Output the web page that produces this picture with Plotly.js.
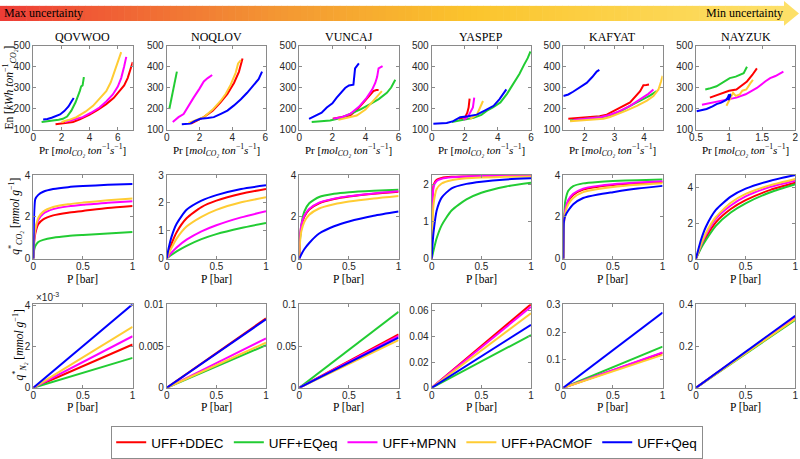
<!DOCTYPE html>
<html><head><meta charset="utf-8">
<script src="https://cdn.plot.ly/plotly-3.0.1.min.js"></script>
<style>html,body{margin:0;padding:0;background:#fff;}#chart{width:800px;height:459px;}</style>
</head><body><div id="chart"></div>
<script>
// ---------- categories ----------
var mofs = ['QOVWOO','NOQLOV','VUNCAJ','YASPEP','KAFYAT','NAYZUK'];
var methods = ['UFF+DDEC','UFF+EQeq','UFF+MPNN','UFF+PACMOF','UFF+Qeq'];
var colors = ['#ff0000','#22cc33','#ff00ff','#ffcc33','#0000ff'];

// ---------- Row 1: productivity (Pr) vs energy (En) ----------
var pr_QOVWOO_DDEC = [1.58,2.0,2.5,2.82,3.3,4.0,4.6,5.18,5.7,6.1,6.45,6.7,6.9,7.06];
var en_QOVWOO_DDEC = [125,128,133,136,148,171,195,221,250,283,310,345,385,422];
var pr_QOVWOO_EQeq = [0.59,1.2,1.8,2.1,2.4,2.7,3.0,3.3,3.4,3.5,3.58,3.65];
var en_QOVWOO_EQeq = [136,140,147,151,162,190,230,283,306,310,345,345];
var pr_QOVWOO_MPNN = [2.24,2.8,3.5,4.1,4.7,5.2,5.65,6.0,6.24,6.45,6.6];
var en_QOVWOO_MPNN = [136,145,159,180,205,235,267,305,345,400,446];
var pr_QOVWOO_PACMOF = [2.0,2.5,3.06,3.7,4.24,4.7,5.18,5.5,5.76,6.0,6.24];
var en_QOVWOO_PACMOF = [136,145,159,185,213,245,283,325,376,420,469];
var pr_QOVWOO_Qeq = [0.7,1.0,1.3,1.6,1.9,2.2,2.5,2.7,2.87];
var en_QOVWOO_Qeq = [148,150,156,163,172,188,210,232,250];

var pr_NOQLOV_DDEC = [1.48,1.9,2.26,2.8,3.28,3.7,4.1,4.4,4.56,4.62];
var en_NOQLOV_DDEC = [128,145,159,190,229,270,322,375,422,438];
var pr_NOQLOV_EQeq = [0.16,0.3,0.41,0.52,0.62];
var en_NOQLOV_EQeq = [198,250,306,345,376];
var pr_NOQLOV_MPNN = [0.37,0.72,1.03,1.3,1.64,2.0,2.26,2.5,2.77];
var en_NOQLOV_MPNN = [136,159,174,210,252,295,329,345,360];
var pr_NOQLOV_PACMOF = [1.33,1.8,2.26,2.8,3.28,3.6,3.9,4.2,4.35,4.52];
var en_NOQLOV_PACMOF = [131,147,159,195,236,270,314,370,415,430];
var pr_NOQLOV_Qeq = [0.92,1.44,1.7,2.05,2.5,2.87,3.3,3.7,4.1,4.52,4.9,5.34,5.6,5.81];
var en_NOQLOV_Qeq = [125,128,140,151,155,159,175,190,215,244,275,314,340,376];

var pr_VUNCAJ_DDEC = [2.02,2.5,3.07,3.5,3.88,4.2,4.48,4.65,4.79];
var en_VUNCAJ_DDEC = [151,158,167,195,229,255,283,288,288];
var pr_VUNCAJ_EQeq = [0.75,1.3,1.86,2.5,3.07,3.7,4.28,4.8,5.29,5.55,5.8];
var en_VUNCAJ_EQeq = [136,139,143,155,174,196,221,245,275,300,337];
var pr_VUNCAJ_MPNN = [2.06,2.6,3.07,3.6,4.08,4.4,4.59,4.7,4.79,4.9,5.03];
var en_VUNCAJ_MPNN = [151,160,174,208,252,290,322,350,391,395,402];
var pr_VUNCAJ_PACMOF = [2.36,2.9,3.47,4.0,4.48,4.75,4.99];
var en_VUNCAJ_PACMOF = [146,155,167,195,236,258,283];
var pr_VUNCAJ_Qeq = [0.59,1.05,1.35,1.66,2.0,2.26,2.5,2.77,3.0,3.27,3.37,3.5,3.6];
var en_VUNCAJ_Qeq = [151,167,180,205,225,252,275,298,310,314,391,405,415];

var pr_YASPEP_DDEC = [1.62,1.9,2.02,2.15,2.23,2.29];
var en_YASPEP_DDEC = [151,155,159,180,205,247];
var pr_YASPEP_EQeq = [1.21,1.9,2.53,3.0,3.34,3.7,4.15,4.55,4.96,5.3,5.57,5.8,5.97];
var en_YASPEP_EQeq = [136,145,156,170,190,205,229,270,322,365,407,440,472];
var pr_YASPEP_MPNN = [1.92,2.1,2.23,2.35,2.49,2.57];
var en_YASPEP_MPNN = [146,155,167,185,205,252];
var pr_YASPEP_PACMOF = [2.33,2.55,2.73,2.9,3.04,3.1];
var en_YASPEP_PACMOF = [151,160,171,200,229,236];
var pr_YASPEP_Qeq = [0.1,0.5,0.91,1.3,1.72,2.2,2.73,3.2,3.74,4.1,4.45,4.51];
var en_YASPEP_Qeq = [128,129,131,140,159,163,171,190,213,245,283,291];

var pr_KAFYAT_DDEC = [1.44,1.8,2.17,2.5,2.74,3.0,3.13,3.53,3.87,3.98,4.08,4.17];
var en_KAFYAT_DDEC = [151,155,159,163,171,190,201,229,283,311,312,314];
var pr_KAFYAT_EQeq = [1.5,2.0,2.4,2.7,2.97,3.25,3.53,3.98,4.2,4.43];
var en_KAFYAT_EQeq = [143,150,156,162,174,190,213,244,262,283];
var pr_KAFYAT_MPNN = [1.61,2.1,2.52,2.8,3.08,3.53,3.98,4.15,4.32];
var en_KAFYAT_MPNN = [146,152,159,168,182,213,252,270,291];
var pr_KAFYAT_PACMOF = [1.5,2.1,2.63,2.85,3.08,3.4,3.76,4.1,4.32,4.49,4.58,4.63];
var en_KAFYAT_PACMOF = [139,146,151,160,171,190,213,238,260,291,330,356];
var pr_KAFYAT_Qeq = [1.27,1.44,1.6,1.72,1.9,2.06,2.25,2.4,2.49];
var en_KAFYAT_Qeq = [260,267,280,291,305,322,350,376,384];

var pr_NAYZUK_DDEC = [0.71,0.8,0.91,1.0,1.11,1.2,1.27,1.35,1.42];
var en_NAYZUK_DDEC = [252,262,275,285,291,310,329,360,391];
var pr_NAYZUK_EQeq = [0.64,0.7,0.81,0.9,1.01,1.1,1.22,1.27];
var en_NAYZUK_EQeq = [291,295,306,325,345,352,368,399];
var pr_NAYZUK_MPNN = [0.59,0.7,0.81,0.95,1.11,1.25,1.42,1.55,1.62,1.7,1.82];
var en_NAYZUK_MPNN = [218,225,233,240,252,268,298,330,345,355,376];
var pr_NAYZUK_PACMOF = [0.96,1.0,1.06,1.1,1.16,1.2,1.26,1.32,1.36];
var en_NAYZUK_PACMOF = [213,240,275,260,267,285,291,320,337];
var pr_NAYZUK_Qeq = [0.51,0.6,0.66,0.75,0.81,0.88,0.91,0.95,0.98,1.0,0.99,1.02,1.01];
var en_NAYZUK_Qeq = [187,192,198,210,221,228,233,240,252,267,240,262,270];

// ---------- Row 2: CO2 isotherms ----------
var P_grid = [0,0.005,0.01,0.02,0.05,0.1,0.2,0.35,0.5,0.75,1];
var qCO2_QOVWOO_DDEC = [0,0.5,0.85,1.2,1.65,1.88,2.07,2.2,2.28,2.42,2.52];
var qCO2_QOVWOO_EQeq = [0,0.3,0.45,0.6,0.8,0.9,1.0,1.08,1.13,1.2,1.27];
var qCO2_QOVWOO_MPNN = [0,0.6,1.0,1.35,1.85,2.15,2.37,2.5,2.58,2.67,2.75];
var qCO2_QOVWOO_PACMOF = [0,0.65,1.05,1.4,1.95,2.25,2.47,2.6,2.68,2.79,2.88];
var qCO2_QOVWOO_Qeq = [0,1.4,2.3,2.85,3.05,3.2,3.33,3.42,3.47,3.53,3.57];

var qCO2_NOQLOV_DDEC = [0,0.06,0.12,0.24,0.55,0.95,1.45,1.85,2.08,2.33,2.5];
var qCO2_NOQLOV_EQeq = [0,0.015,0.03,0.06,0.14,0.26,0.46,0.7,0.88,1.1,1.28];
var qCO2_NOQLOV_MPNN = [0,0.02,0.05,0.1,0.22,0.4,0.68,0.98,1.2,1.48,1.7];
var qCO2_NOQLOV_PACMOF = [0,0.05,0.09,0.18,0.4,0.72,1.15,1.5,1.75,2.02,2.2];
var qCO2_NOQLOV_Qeq = [0,0.1,0.2,0.38,0.8,1.25,1.75,2.08,2.28,2.5,2.63];

var qCO2_VUNCAJ_DDEC = [0,0.8,1.2,1.55,2.0,2.35,2.65,2.85,2.97,3.1,3.2];
var qCO2_VUNCAJ_EQeq = [0,0.7,1.1,1.6,2.25,2.65,2.95,3.1,3.18,3.25,3.3];
var qCO2_VUNCAJ_MPNN = [0,0.85,1.25,1.6,2.05,2.38,2.68,2.87,2.99,3.12,3.22];
var qCO2_VUNCAJ_PACMOF = [0,0.6,0.95,1.3,1.75,2.1,2.4,2.6,2.73,2.88,3.0];
var qCO2_VUNCAJ_Qeq = [0,0.05,0.1,0.2,0.45,0.75,1.2,1.55,1.78,2.05,2.25];

var qCO2_YASPEP_DDEC = [0,1.3,1.75,2.0,2.13,2.18,2.21,2.22,2.23,2.24,2.25];
var qCO2_YASPEP_EQeq = [0,0.06,0.12,0.24,0.55,0.9,1.3,1.6,1.78,1.95,2.05];
var qCO2_YASPEP_MPNN = [0,1.2,1.65,1.95,2.1,2.16,2.2,2.22,2.23,2.24,2.25];
var qCO2_YASPEP_PACMOF = [0,0.7,1.1,1.5,1.88,2.03,2.12,2.17,2.19,2.21,2.22];
var qCO2_YASPEP_Qeq = [0,0.25,0.45,0.75,1.3,1.65,1.9,2.02,2.08,2.14,2.17];

var qCO2_KAFYAT_DDEC = [0,1.5,1.95,2.3,2.75,3.05,3.3,3.44,3.52,3.6,3.66];
var qCO2_KAFYAT_EQeq = [0,1.6,2.2,2.75,3.25,3.47,3.6,3.67,3.71,3.75,3.78];
var qCO2_KAFYAT_MPNN = [0,1.5,1.95,2.35,2.8,3.1,3.35,3.48,3.56,3.64,3.7];
var qCO2_KAFYAT_PACMOF = [0,1.4,1.85,2.2,2.6,2.9,3.18,3.33,3.43,3.53,3.6];
var qCO2_KAFYAT_Qeq = [0,1.7,1.9,2.05,2.3,2.6,2.9,3.07,3.18,3.35,3.48];

var qCO2_NAYZUK_DDEC = [0,0.07,0.14,0.28,0.66,1.2,2.05,2.8,3.3,3.88,4.28];
var qCO2_NAYZUK_EQeq = [0,0.06,0.12,0.24,0.58,1.05,1.85,2.6,3.12,3.75,4.2];
var qCO2_NAYZUK_MPNN = [0,0.08,0.16,0.31,0.75,1.35,2.25,3.0,3.52,4.05,4.4];
var qCO2_NAYZUK_PACMOF = [0,0.09,0.17,0.33,0.8,1.45,2.35,3.15,3.65,4.15,4.5];
var qCO2_NAYZUK_Qeq = [0,0.12,0.24,0.45,1.05,1.8,2.75,3.5,3.95,4.4,4.72];

// ---------- Row 3: N2 isotherms (linear), endpoints at P = 0 and 1 bar ----------
var P_line = [0,1];
// order: DDEC, EQeq, MPNN, PACMOF, Qeq
var qN2_QOVWOO = [0.0021,0.00145,0.0025,0.00295,0.00405];
var qN2_NOQLOV = [0.0083,0.0051,0.0059,0.0054,0.0082];
var qN2_VUNCAJ = [0.064,0.091,0.062,0.057,0.060];
var qN2_YASPEP = [0.065,0.041,0.063,0.058,0.049];
var qN2_KAFYAT = [0.125,0.148,0.127,0.118,0.270];
var qN2_NAYZUK = [0.340,0.325,0.335,0.330,0.345];

// ---------- axis ranges / ticks ----------
var r1_xrange = [[0,7.05],[0,6.05],[0,6],[0,6],[1.27,4.63],[0.5,2]];
var r1_xticks = [[0,2,4,6],[0,2,4,6],[0,2,4,6],[0,2,4,6],[2,3,4],[0.5,1,1.5,2]];
var r1_yrange = [100,500];
var r1_yticks = [100,200,300,400,500];
var r2_yrange = [[0,4],[0,3],[0,4],[0,2.26],[0,4],[0,4.72]];
var r2_yticks = [[0,2,4],[0,1,2,3],[0,2,4],[0,1,2],[0,2,4],[0,2,4]];
var r3_yrange = [[0,0.00405],[0,0.01],[0,0.1],[0,0.065],[0,0.3],[0,0.4]];
var r3_yticks = [[0,0.002,0.004],[0,0.005,0.01],[0,0.05,0.1],[0,0.02,0.04,0.06],[0,0.1,0.2,0.3],[0,0.2,0.4]];
var r3_yticktext = [['0','2','4'],['0','0.005','0.01'],['0','0.05','0.1'],['0','0.02','0.04','0.06'],['0','0.1','0.2','0.3'],['0','0.2','0.4']];
var P_ticks = [0,0.5,1];

// ---------- build ----------
const W = 800, H = 459;
const colLeft = [33.3,166.7,299.3,431.7,563.3,696];
const colW = 99.3;
const rowTB = [[46.7,132.7],[179.3,265],[311.7,397.3]];
const suffix = ['DDEC','EQeq','MPNN','PACMOF','Qeq'];
const G = (name) => window[name];
const SERIF = 'Liberation Serif';
const SANS = 'Liberation Sans';

const traces = [];
const layout = {
  width: W, height: H, margin: {l:0,r:0,t:0,b:0},
  paper_bgcolor: '#ffffff', plot_bgcolor: '#ffffff',
  showlegend: true,
  legend: {orientation:'h', x:0.509, xanchor:'center', y:1-436.5/H, yanchor:'top',
    bordercolor:'#8c8c8c', borderwidth:1, bgcolor:'#ffffff',
    font:{family:SANS, size:13.5, color:'#000'}},
  annotations: [], shapes: []
};
const axBase = {showline:true, mirror:'ticks', linecolor:'#8a8a8a', linewidth:1,
  ticks:'inside', ticklen:3, tickcolor:'#8a8a8a', showgrid:false, zeroline:false,
  tickfont:{family:SANS, size:10, color:'#262626'}, fixedrange:true};

function axisId(k){ return k===1 ? '' : String(k); }

for (let r=0; r<3; r++){
  for (let c=0; c<6; c++){
    const k = r*6 + c + 1, id = axisId(k);
    const xd = [colLeft[c]/W, (colLeft[c]+colW)/W];
    const yd = [1-rowTB[r][1]/H, 1-rowTB[r][0]/H];
    const xa = Object.assign({}, axBase, {domain:xd, anchor:'y'+id, ticklabelstandoff:-2});
    const ya = Object.assign({}, axBase, {domain:yd, anchor:'x'+id});
    if (r===0){
      xa.range = r1_xrange[c]; xa.tickvals = r1_xticks[c];
      ya.range = r1_yrange; ya.tickvals = r1_yticks;
    } else if (r===1){
      xa.range = [0,1]; xa.tickvals = P_ticks;
      ya.range = r2_yrange[c]; ya.tickvals = r2_yticks[c];
    } else {
      xa.range = [0,1]; xa.tickvals = P_ticks;
      ya.range = r3_yrange[c]; ya.tickvals = r3_yticks[c]; ya.ticktext = r3_yticktext[c];
    }
    layout['xaxis'+id] = xa; layout['yaxis'+id] = ya;
    for (let m=0; m<5; m++){
      let x, y, shape='linear';
      if (r===0){ x = G('pr_'+mofs[c]+'_'+suffix[m]); y = G('en_'+mofs[c]+'_'+suffix[m]); }
      else if (r===1){ x = P_grid; y = G('qCO2_'+mofs[c]+'_'+suffix[m]); shape='spline'; }
      else { x = P_line; y = [0, G('qN2_'+mofs[c])[m]]; }
      traces.push({type:'scatter', mode:'lines', x:x, y:y, xaxis:'x'+id, yaxis:'y'+id,
        name: methods[m], legendgroup: methods[m], showlegend: (k===1),
        line:{color:colors[m], width:2, shape:shape, smoothing:0.6}, hoverinfo:'skip'});
    }
    const cx = (colLeft[c]+colW/2)/W;
    if (r===0){
      layout.annotations.push({xref:'paper', yref:'paper', x:cx, y:1-37.5/H, text:mofs[c], showarrow:false,
        xanchor:'center', yanchor:'middle', font:{family:SERIF, size:12, color:'#000'}});
      layout.annotations.push({xref:'paper', yref:'paper', x:cx, y:1-154/H,
        text:'Pr [<i>mol</i><sub><i>CO₂</i></sub> <i>ton</i><sup>−1</sup><i>s</i><sup>−1</sup>]', showarrow:false,
        xanchor:'center', yanchor:'middle', font:{family:SERIF, size:11, color:'#000'}});
    } else {
      layout.annotations.push({xref:'paper', yref:'paper', x:cx, y:1-(r===1?286:417)/H, text:'P [bar]', showarrow:false,
        xanchor:'center', yanchor:'middle', font:{family:SERIF, size:11.5, color:'#000'}});
    }
  }
}

// y-axis labels
const serif = {family:SERIF, size:11.5, color:'#000'};
layout.annotations.push({xref:'paper', yref:'paper', x:9/W, y:1-89.7/H, textangle:-90, showarrow:false,
  text:'En [<i>kWh ton</i><sup>−1</sup><sub><i>CO₂</i></sub>]', xanchor:'center', yanchor:'middle', font:serif});
layout.annotations.push({xref:'paper', yref:'paper', x:15/W, y:1-222/H, textangle:-90, showarrow:false,
  text:'<i>q</i><sup>*</sup><sub><i>CO₂</i></sub> [<i>mmol g</i><sup>−1</sup>]', xanchor:'center', yanchor:'middle', font:serif});
layout.annotations.push({xref:'paper', yref:'paper', x:19/W, y:1-354/H, textangle:-90, showarrow:false,
  text:'<i>q</i><sup>*</sup><sub><i>N₂</i></sub> [<i>mmol g</i><sup>−1</sup>]', xanchor:'center', yanchor:'middle', font:serif});
// exponent
layout.annotations.push({xref:'paper', yref:'paper', x:34/W, y:1-304/H, showarrow:false,
  text:'×10<sup>-3</sup>', xanchor:'left', yanchor:'middle', font:{family:SANS, size:10, color:'#262626'}});

// gradient arrow banner
const stops = [[0,[238,61,54]],[0.35,[243,150,51]],[0.6,[251,196,44]],[1,[253,224,104]]];
function colAt(t){
  for (let i=0;i<stops.length-1;i++){
    const a=stops[i], b=stops[i+1];
    if (t>=a[0] && t<=b[0]){ const f=(t-a[0])/(b[0]-a[0]);
      const cc=a[1].map((v,j)=>Math.round(v+(b[1][j]-v)*f)); return 'rgb('+cc.join(',')+')'; }
  }
  return 'rgb(253,224,104)';
}
const barEnd = 784, barTop = 6, barBot = 21.5, N = 120;
for (let i=0;i<N;i++){
  const x0 = barEnd*i/N, x1 = barEnd*(i+1)/N + 0.6;
  layout.shapes.push({type:'rect', xref:'paper', yref:'paper', x0:x0/W, x1:x1/W, y0:1-barBot/H, y1:1-barTop/H,
    fillcolor:colAt(i/(N-1)), line:{width:0}, layer:'below'});
}
layout.shapes.push({type:'path', xref:'paper', yref:'paper',
  path:'M '+(barEnd/W)+' '+(1-1/H)+' L '+(799/W)+' '+(1-13.8/H)+' L '+(barEnd/W)+' '+(1-26.5/H)+' Z',
  fillcolor:'rgb(253,224,104)', line:{width:0}, layer:'below'});
layout.annotations.push({xref:'paper', yref:'paper', x:2/W, y:1-13.5/H, text:'Max uncertainty', showarrow:false,
  xanchor:'left', yanchor:'middle', font:{family:SERIF, size:12, color:'#000'}});
layout.annotations.push({xref:'paper', yref:'paper', x:785/W, y:1-13.5/H, text:'Min uncertainty', showarrow:false,
  xanchor:'right', yanchor:'middle', font:{family:SERIF, size:12, color:'#000'}});

Plotly.newPlot('chart', traces, layout, {staticPlot:true, displayModeBar:false});
</script></body></html>
